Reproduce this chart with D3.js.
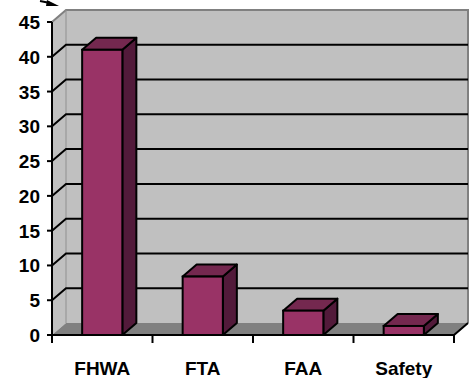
<!DOCTYPE html>
<meta charset="utf-8">
<style>
    body { margin: 0; background: #fff; }
    text { font-family: "Liberation Sans", Arial, sans-serif; font-weight: bold; fill: #000; }
</style>
<script src="https://d3js.org/d3.v7.min.js"></script>
<body>
<script>
    var categories = ["FHWA", "FTA", "FAA", "Safety"];
    var values = [41, 8.4, 3.5, 1.3];
    var yTicks = [0, 5, 10, 15, 20, 25, 30, 35, 40, 45];

    var width = 474;
    var height = 378;
    var plotLeft = 52, plotRight = 454, plotBottom = 335, plotTop = 22;
    var dx = 14, dy = -12;

    var x = d3.scaleBand().domain(categories).range([plotLeft, plotRight])
        .paddingInner(0.6).paddingOuter(0.3);
    var y = d3.scaleLinear().domain([0, 45]).range([plotBottom, plotTop]);

    var svg = d3.select("body").append("svg")
        .attr("width", width)
        .attr("height", height);

    // walls and floor
    svg.append("polygon")
        .attr("points", [[plotLeft, y(45)], [plotLeft + dx, y(45) + dy], [plotLeft + dx, plotBottom + dy], [plotLeft, plotBottom]].join(" "))
        .attr("fill", "#c0c0c0");
    svg.append("rect")
        .attr("x", plotLeft + dx).attr("y", y(45) + dy)
        .attr("width", plotRight - plotLeft)
        .attr("height", plotBottom - y(45))
        .attr("fill", "#c0c0c0");
    svg.append("polygon")
        .attr("points", [[plotLeft, plotBottom], [plotLeft + dx, plotBottom + dy], [plotRight + dx, plotBottom + dy], [plotRight, plotBottom]].join(" "))
        .attr("fill", "#808080");

    // wall borders
    svg.append("path")
        .attr("d", "M" + plotLeft + "," + y(45) + "L" + (plotLeft + dx) + "," + (y(45) + dy) +
            "H" + (plotRight + dx) + "V" + (plotBottom + dy))
        .attr("fill", "none").attr("stroke", "#808080").attr("stroke-width", 2);
    svg.append("line")
        .attr("x1", plotLeft + dx).attr("x2", plotLeft + dx)
        .attr("y1", y(45) + dy).attr("y2", plotBottom + dy)
        .attr("stroke", "#909090").attr("stroke-width", 1);

    // gridlines
    svg.selectAll(".grid")
        .data(yTicks.filter(function(d) { return d > 0 && d < 45; }))
        .enter().append("path")
        .attr("class", "grid")
        .attr("d", function(d) {
            return "M" + plotLeft + "," + y(d) + "L" + (plotLeft + dx) + "," + (y(d) + dy) + "H" + (plotRight + dx);
        })
        .attr("fill", "none").attr("stroke", "#000").attr("stroke-width", 2);

    // bars
    var bars = svg.selectAll(".bar")
        .data(categories.map(function(c, i) { return { c: c, v: values[i] }; }))
        .enter().append("g").attr("class", "bar");

    bars.append("polygon")
        .attr("points", function(d) {
            var x0 = x(d.c) + x.bandwidth(), yt = y(d.v);
            return [[x0, yt], [x0 + dx, yt + dy], [x0 + dx, plotBottom + dy], [x0, plotBottom]].join(" ");
        })
        .attr("fill", "#521a3a").attr("stroke", "#000").attr("stroke-width", 2).attr("stroke-linejoin", "round");
    bars.append("polygon")
        .attr("points", function(d) {
            var x0 = x(d.c), x1 = x0 + x.bandwidth(), yt = y(d.v);
            return [[x0, yt], [x0 + dx, yt + dy], [x1 + dx, yt + dy], [x1, yt]].join(" ");
        })
        .attr("fill", "#74284f").attr("stroke", "#000").attr("stroke-width", 2).attr("stroke-linejoin", "round");
    bars.append("rect")
        .attr("x", function(d) { return x(d.c); })
        .attr("y", function(d) { return y(d.v); })
        .attr("width", x.bandwidth())
        .attr("height", function(d) { return plotBottom - y(d.v); })
        .attr("fill", "#993366").attr("stroke", "#000").attr("stroke-width", 2);

    // axes
    svg.append("line")
        .attr("x1", plotLeft).attr("x2", plotLeft).attr("y1", y(45)).attr("y2", plotBottom)
        .attr("stroke", "#000").attr("stroke-width", 2);
    svg.append("path")
        .attr("d", "M" + plotLeft + "," + plotBottom + "H" + plotRight + "L" + (plotRight + dx) + "," + (plotBottom + dy))
        .attr("fill", "none").attr("stroke", "#000").attr("stroke-width", 2);

    svg.selectAll(".ytick")
        .data(yTicks).enter().append("line")
        .attr("x1", plotLeft - 5).attr("x2", plotLeft)
        .attr("y1", function(d) { return y(d); })
        .attr("y2", function(d) { return y(d); })
        .attr("stroke", "#000").attr("stroke-width", 2);
    svg.selectAll(".ylabel")
        .data(yTicks).enter().append("text")
        .attr("x", 40)
        .attr("y", function(d) { return y(d) + 7; })
        .attr("text-anchor", "end")
        .attr("font-size", 19)
        .text(function(d) { return d; });

    var bounds = d3.range(categories.length + 1).map(function(i) { return plotLeft + i * (plotRight - plotLeft) / categories.length; });
    svg.selectAll(".xtick")
        .data(bounds).enter().append("line")
        .attr("x1", function(d) { return d; })
        .attr("x2", function(d) { return d; })
        .attr("y1", plotBottom).attr("y2", plotBottom + 8)
        .attr("stroke", "#000").attr("stroke-width", 2);
    svg.selectAll(".xlabel")
        .data(categories).enter().append("text")
        .attr("x", function(d) { return x(d) + x.bandwidth() / 2; })
        .attr("y", 375)
        .attr("text-anchor", "middle")
        .attr("font-size", 19)
        .text(function(d) { return d; });

    // stray arrow at top
    svg.append("path")
        .attr("d", "M40,1 L50,3")
        .attr("stroke", "#000").attr("stroke-width", 2);
    svg.append("polygon")
        .attr("points", "47,0 59,6 46,6")
        .attr("fill", "#000");
</script>
